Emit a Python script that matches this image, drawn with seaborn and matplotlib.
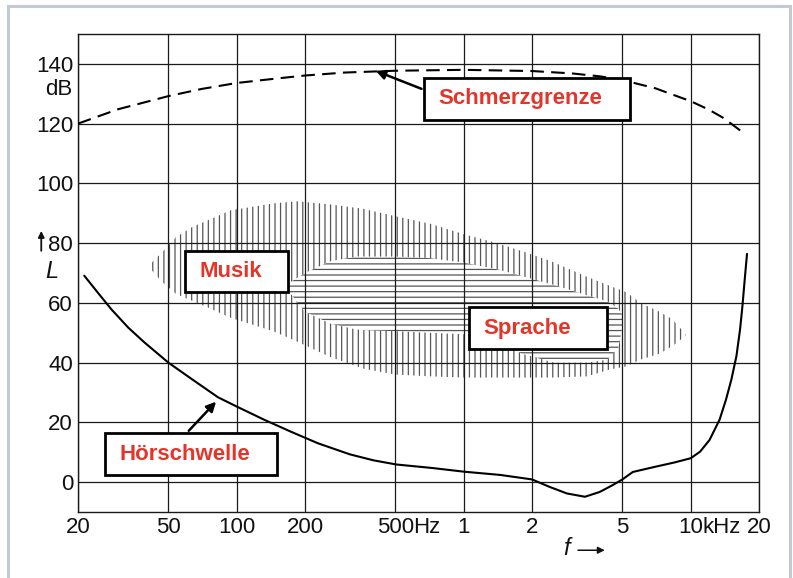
import matplotlib
matplotlib.use('Agg')
import matplotlib.pyplot as plt
from matplotlib.patches import Rectangle
import seaborn as sns

# Hörfläche - Frequenz in Hz, Schallpegel in dB
x_ticks = [20, 50, 100, 200, 500, 1000, 2000, 5000, 10000, 20000]
x_labels = ['20', '50', '100', '200', '500', '1', '2', '5', '10', '20']
y_ticks = [0, 20, 40, 60, 80, 100, 120, 140]
y_labels = ['0', '20', '40', '60', '80', '100', '120', '140']

# Schmerzgrenze (gestrichelt)
f_schmerz = [20, 30, 50, 70, 100, 150, 200, 300, 500, 1000, 2000, 3000, 4000, 5000,
             7000, 10000, 12000, 14000, 17000]
L_schmerz = [120, 124.8, 129.2, 131.6, 133.6, 135.1, 136.1, 137.1, 137.7, 138, 137.6, 136.8, 135.8, 134.6,
             131.8, 127.5, 124.7, 121.8, 117]

# Hörschwelle
f_hoer = [21.3, 24.4, 28, 33.3, 39.3, 50, 63.1, 82.7, 100, 132, 173, 228, 315, 400, 505, 732, 1000,
          1450, 2000, 2390, 2850, 3420, 3970, 4530, 5000, 5560, 6850, 8500, 10000, 11000, 12100,
          13400, 14300, 15100, 15900, 16500, 16900, 17300, 17700]
L_hoer = [69.1, 63.5, 57.9, 51.7, 46.7, 40, 34.6, 28.4, 25.3, 20.9, 16.9, 13, 9.3, 7.3, 5.9, 4.7, 3.5,
          2.4, 0.9, -1.6, -3.8, -4.9, -3.3, -1, 0.9, 3.4, 5, 6.6, 8.0, 10.2, 14.1,
          20.9, 27.6, 34.3, 42.2, 51.2, 59, 68, 76.4]

# Musik-Bereich (senkrecht schraffiert)
f_musik = [41, 47, 54, 64, 74, 94, 114, 145, 185, 256, 360, 500, 710, 1000, 1400, 1860,
           2470, 3500, 4400, 5200, 6000, 7300, 8300, 9500]
musik_hi = [72.5, 77, 82, 85.5, 87.5, 91, 92, 93.3, 94, 93, 91.5, 89, 86.5, 83, 80, 77,
            73.7, 68.7, 65.7, 63.6, 60, 57, 54.5, 49.5]
musik_lo = [72, 67, 63, 60.6, 58.6, 55, 53, 50.5, 47, 42, 38, 36, 35.4, 35, 35, 35,
            35, 35.4, 37.7, 38.7, 41, 43, 45.5, 49]

# Sprach-Bereich (waagerecht schraffiert)
f_sprache = [165, 200, 260, 340, 500, 700, 1000, 1450, 1800, 2500, 3500, 4300, 4800, 5000]
sprache_hi = [66, 70, 74, 75.5, 75.5, 75, 73.5, 71, 69, 66, 62.5, 60.5, 58, 56]
sprache_lo = [65, 57, 53, 51, 50.5, 50, 49.5, 47, 43, 40, 40, 41, 45, 52]

RED = '#e4352a'
INK = '#111111'

sns.set_theme(style='white')
plt.rcParams['font.family'] = ['Liberation Sans', 'DejaVu Sans']
plt.rcParams['hatch.linewidth'] = 0.9
plt.rcParams['hatch.color'] = '#555555'

fig = plt.figure(figsize=(7.93, 5.78), dpi=100)
ax = fig.add_axes([0.0984, 0.1142, 0.8588, 0.8270])
ax.set_xscale('log')

# Bereiche
ax.fill_between(f_musik, musik_lo, musik_hi, facecolor='none', edgecolor='#555555',
                hatch='|||', linewidth=0, zorder=1)
ax.fill_between(f_sprache, sprache_lo, sprache_hi, facecolor='white', edgecolor='#555555',
                hatch='---', linewidth=0, zorder=1.5)

# Kurven
sns.lineplot(x=f_schmerz, y=L_schmerz, ax=ax, color='black', linewidth=1.5,
             linestyle=(0, (6.5, 3.5)), estimator=None, sort=False, zorder=3)
sns.lineplot(x=f_hoer, y=L_hoer, ax=ax, color='black', linewidth=1.5,
             estimator=None, sort=False, zorder=3)

ax.set_xlim(20, 20000)
ax.set_ylim(-10, 150)
ax.set_xticks(x_ticks)
ax.set_xticklabels(x_labels)
ax.minorticks_off()
ax.set_yticks(y_ticks)
ax.set_yticklabels(y_labels)
ax.tick_params(axis='both', length=0, labelsize=16, colors=INK, pad=3.6)
ax.set_xlabel('')
ax.set_ylabel('')

ax.set_axisbelow(False)
ax.grid(True, which='major', color='#1a1a1a', linewidth=0.9)
for sp in ax.spines.values():
    sp.set_color('#1a1a1a')
    sp.set_linewidth(1.0)

# Einheiten an der Achse
xtr = ax.get_xaxis_transform()
ytr = ax.get_yaxis_transform()
ax.annotate('Hz', xy=(500, 0), xycoords=xtr, xytext=(13.0, -3.6), textcoords='offset points',
            ha='left', va='top', fontsize=16, color=INK)
ax.annotate('kHz', xy=(10000, 0), xycoords=xtr, xytext=(8.5, -3.6), textcoords='offset points',
            ha='left', va='top', fontsize=16, color=INK)
ax.text(-0.0088, 131.5, 'dB', transform=ytr, ha='right', va='center', fontsize=16, color=INK)
ax.annotate('', xy=(-0.054, 85), xycoords=ytr, xytext=(-0.054, 76.5), textcoords=ytr,
            arrowprops=dict(arrowstyle='-|>', color=INK, lw=1.3, mutation_scale=9))
ax.text(-0.038, 70.4, 'L', transform=ytr, ha='center', va='center', fontsize=17,
        style='italic', color=INK)
ax.text(2850, -0.077, 'f', transform=xtr, ha='center', va='center', fontsize=17,
        style='italic', color=INK)
ax.annotate('', xy=(4300, -0.08), xycoords=xtr, xytext=(3100, -0.08), textcoords=xtr,
            arrowprops=dict(arrowstyle='-|>', color=INK, lw=1.1, mutation_scale=10))


def label_box(text, x0, x1, y0, y1, tx, ty):
    ax.add_patch(Rectangle((x0, y0), x1 - x0, y1 - y0, facecolor='white',
                           edgecolor='black', linewidth=2, zorder=5))
    ax.text(tx, ty, text, color=RED, fontsize=16, fontweight='bold',
            ha='left', va='center', zorder=6)


label_box('Schmerzgrenze', 669, 5405, 121.2, 135.4, 771, 128.3)
label_box('Musik', 59.2, 167.5, 63.6, 77.4, 68.6, 70.5)
label_box('Sprache', 1055, 4281, 44.4, 58.6, 1217, 51.5)
label_box('Hörschwelle', 26.3, 150.3, 2.4, 16.5, 30.6, 9.4)

arrow = dict(arrowstyle='-|>', color='black', lw=1.8, mutation_scale=14)
ax.annotate('', xy=(399, 138), xytext=(669, 131.3), arrowprops=arrow, zorder=4)
ax.annotate('', xy=(82.7, 27.6), xytext=(60.3, 16.5), arrowprops=arrow, zorder=4)

# heller Rahmen um das Bild
fig.patches.append(Rectangle((8 / 793, -0.02), 782 / 793, 1 - 6 / 578 + 0.02,
                             transform=fig.transFigure, fill=False,
                             edgecolor='#c4cad3', linewidth=2.2))

fig.savefig('out.png', dpi=100)
plt.close(fig)
